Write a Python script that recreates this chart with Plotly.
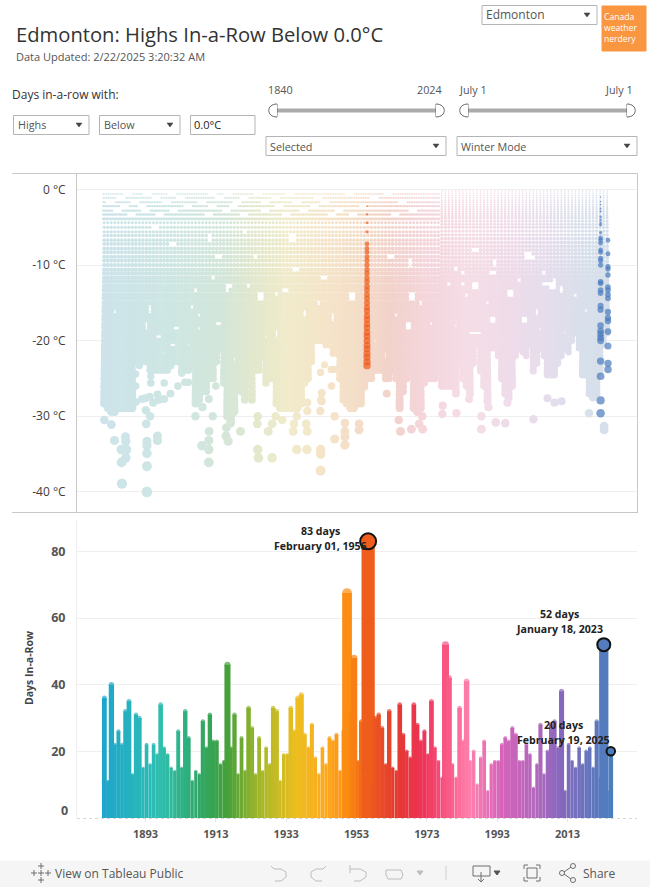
import plotly.graph_objects as go

# ---------- data ----------
bar_years = list(range(1881, 2026))
bar_days = [36, 11, 40, 22, 26, 22, 32, 35, 13, 31,
            30, 15, 22, 16, 22, 19, 34, 21, 19, 15,
            14, 26, 15, 32, 24, 11, 14, 13, 29, 21,
            31, 23, 23, 16, 17, 46, 21, 31, 13, 24,
            14, 33, 27, 13, 24, 14, 21, 16, 33, 32,
            11, 19, 19, 33, 26, 36, 37, 25, 21, 28,
            18, 13, 21, 16, 24, 23, 25, 14, 26, 67.5,
            32, 48, 17, 29, 13, 83, 10, 30, 31, 27,
            16, 32, 15, 14, 34, 25, 20, 18, 34, 28,
            23, 26, 19, 35, 21, 17, 12, 52, 42, 16,
            12, 33, 23, 41, 17, 20, 10, 18, 23, 8,
            16, 17, 17, 22, 24, 23, 27, 25, 17, 17,
            22, 19, 9, 16, 28, 13, 20, 28, 29, 21,
            38, 8, 22, 17, 15, 21, 16, 20, 21, 15,
            29, 12, 52, 8, 20]

cloud_years = list(range(1881, 2025))
cloud_floor = [-28.7, -29, -29.5, -29.5, -29.3, -29, -29, -29, -29, -23,
               -23.5, -23, -23, -24, -24, -24, -24, -24, -24, -23.5,
               -23, -23, -24, -24, -24, -23.5, -28.5, -28, -27, -27,
               -25.5, -25.5, -23, -21.5, -26, -30.5, -31, -29.5, -26, -27,
               -28, -26, -28, -24, -24, -22.5, -26, -25, -25, -28.5,
               -29, -29, -29, -29, -29, -29, -28.5, -26, -25, -23,
               -20, -20, -20, -21, -21, -22, -22, -25, -28, -28.5,
               -29, -29, -28.5, -28.5, -26.5, -25, -25, -24, -24, -24,
               -25, -25, -24, -25, -29, -27, -25, -24, -29, -29.5,
               -29, -26, -25.5, -25.5, -25, -24, -26, -26, -26, -26,
               -27, -23, -25, -26, -27, -23, -20.5, -24, -26, -28,
               -21, -21, -22, -25, -27, -27.5, -26, -22, -21, -21.5,
               -22, -20.5, -24, -23, -21, -22, -24.5, -24.5, -24.5, -23,
               -22, -21, -21.5, -20, -19, -21, -24.5, -24.5, -27, -27.5,
               -27, -24, -20.5, -19]

imperial_levels = [-0.6, -1.1, -1.7, -2.2, -2.8, -3.3, -3.9, -4.4, -5, -5.6, -6.1, -6.7,
                   -7.2, -7.8, -8.3, -8.9, -9.4, -10, -10.6, -11.1, -11.7, -12.2, -12.8,
                   -13.3, -13.9, -14.4, -15, -15.6, -16.1, -16.7, -17.2, -17.8, -18.3,
                   -18.9, -19.4, -20, -20.6, -21.1, -21.7, -22.2, -22.8, -23.3, -23.9,
                   -24.4, -25, -25.6, -26.1, -26.7, -27.2, -27.8, -28.3, -28.9, -29.4,
                   -30, -30.6, -31.1, -31.7]
metric_levels = [-0.2, -0.5, -0.8, -1.1, -1.4, -1.7, -2, -2.3, -2.6, -2.9, -3.2, -3.5, -3.8,
                 -4.2, -4.6, -5, -5.5, -6, -6.5, -7, -7.5, -8, -8.5, -9, -9.5, -10, -10.5,
                 -11, -11.5, -12, -12.5, -13, -13.5, -14, -14.5, -15, -15.5, -16, -16.5,
                 -17, -17.5, -18, -18.5, -19, -19.5, -20, -20.5, -21, -21.5, -22, -22.5,
                 -23, -23.5, -24, -24.5, -25, -25.5, -26, -26.5, -27, -27.5, -28, -28.5]

gap_years = [1900.6, 1895.9, 1921.5, 1911.5, 1934.7, 1935.7, 1912, 1916.3, 1922.4, 1930, 1907.3,
             1908.2, 1893, 1908.2, 1913.9, 1930, 1938.5, 1900.6, 1884, 1896.8, 1925.3, 1924.3,
             1951.8, 1964.1, 1967.9, 1974, 1968.8, 1986.9, 1984.1, 1997.4, 1990.2, 2003, 2004.4,
             1999.2, 1986.9, 2018.2, 1981.1, 1992.4, 2009.3, 1898, 1905, 1918, 1927, 1933, 1946,
             1958, 1961, 1971, 1978, 1983, 1988, 1994, 2001, 2006, 2012, 2015,
             1962.7, 1968.4, 1979.3, 1983.1, 1986.9, 1991.6, 1996.8, 2001.6, 2006.8, 2004, 2011.5,
             1981.2, 1985.9, 1991.6, 2000.6, 2005.4, 2008.7, 1951.8, 1894, 1901.6, 1906.3, 1916.7,
             1926.2, 1932.8, 1938.5, 1942.3, 1943.7, 1913.9]
gap_temps = [-7.2, -5.1, -5.5, -6.4, -6.4, -10.4, -11.5, -13, -12.6, -13.7, -13.5,
             -16.6, -18.1, -18.5, -17.7, -19.2, -16.3, -20.7, -16.1, -19.4, -14.1, -9,
             -14.4, -16.6, -18.1, -17.9, -14.1, -8, -13.9, -13.7, -15, -9, -16.3,
             -11.9, -19, -15.9, -10.6, -9.7, -12, -21.5, -20.5, -22.5, -19.5, -21, -17,
             -20, -22, -15, -21, -11, -19, -20, -17.5, -11, -19, -14,
             -9, -9.7, -12.4, -12.4, -12.8, -11, -13.7, -8.8, -12.6, -16.1, -13.3,
             -18.1, -19, -17.2, -17.2, -18.5, -12.8, -14.1, -15.9, -18.5, -15.5, -12.8,
             -14.1, -13.3, -16.8, -14.8, -11.5, -8.9]

# breaks in the shallow rows of dashes, one year and one row per entry
break_years = [1888, 1893.5, 1900.5, 1912, 1916.5, 1925, 1934, 1951, 1962,
               1886, 1896, 1903, 1914, 1921, 1930, 1942, 1958,
               1883, 1890, 1899, 1909, 1919, 1927, 1936, 1944, 1966,
               1887, 1892, 1905, 1912, 1918, 1931, 1941, 1955,
               1885, 1893, 1901, 1916, 1927, 1938, 1948, 1969,
               1889, 1897, 1911, 1921, 1933, 1946, 1952, 1964]
break_temps = [-0.6] * 9 + [-1.1] * 8 + [-1.7] * 9 + [-2.2] * 8 + [-2.8] * 8 + [-3.3] * 8

outlier_years = [1881.3, 1883.3, 1884.2, 1887.3, 1887.4, 1886.1, 1887.6, 1887.4, 1886.2, 1886.3,
                 1893.4, 1893.4, 1893.4, 1893.4, 1893.4, 1896.4, 1896.4, 1893.2, 1894.3, 1893.1,
                 1907.2, 1912.1, 1911.1, 1911, 1909, 1911, 1911, 1915.9, 1916.5, 1917.2, 1916,
                 1920, 1924.9, 1924.8, 1924.9, 1925.1, 1929, 1927.9, 1930, 1929, 1931.9, 1936,
                 1935.2, 1935, 1938.7, 1939, 1936, 1938.9, 1942.8, 1942.8, 1942.8, 1942.7, 1942.9,
                 1939, 1939, 1942.8, 1943.9, 1946.8, 1946.8, 1949.7, 1949.7, 1949.7, 1949.7,
                 1953.7, 1953.7, 1965.5, 1968.6, 1970.8, 1971.8, 1965, 1971.7, 1977.4, 1981.4,
                 1977.5, 1988.5, 1988.5, 1992.6, 1995.3, 2003.3, 2019.1, 2023.4, 2023.4, 1961.6,
                 1995.9, 1990.5, 1985, 2007.3, 2009.3, 2011.3,
                 1890.2, 1890.2, 1890.2, 1893, 1892, 1894.5, 1894.5, 1894.2, 1895.2, 1896.4, 1896.8,
                 1898.3, 1898.3, 1900.1, 1902.2, 1904.2, 1905.2, 1903.3, 1913, 1909.2, 1911,
                 1943.1, 1943.1, 1945.9, 1945.8, 1946.7]
outlier_temps = [-30.5, -31.1, -33.2, -32.7, -33.3, -34.4, -34.4, -35.5, -36.1, -38.9,
                 -33.3, -33.9, -34.9, -36.6, -40, -32.6, -33.2, -31, -30, -29.2,
                 -30, -30, -32, -33.2, -33.9, -34.4, -36.1, -32.6, -33.3, -30.9, -31.5,
                 -32, -30, -31, -34.4, -35.5, -35.5, -32, -30, -31, -30.5, -30,
                 -31, -32, -31, -32, -34.4, -34.4, -34.4, -35, -37.2, -29.3, -27.8,
                 -29.3, -28.2, -24.2, -23.2, -30, -33, -30.9, -32, -32.7, -33.8,
                 -31, -31.8, -32, -31.7, -31, -31.7, -30.5, -30, -29.7, -29.6,
                 -28.6, -30, -31.7, -30.8, -30.9, -30.4, -29.6, -31.3, -31.8, -27,
                 -28.2, -28.8, -27.7, -27.6, -28.2, -28,
                 -24.4, -26, -28.1, -27.6, -27.7, -25.6, -24.7, -27.4, -28.2, -27.1, -27.8,
                 -25.6, -27.7, -27, -26, -25.5, -25.5, -24.3, -26, -28.8, -27.7,
                 -26.9, -28, -26, -23.8, -23.8]

streak_1956_temps = [-2.2, -3.3, -4.4, -5.6, -7.2, -7.8, -8.3, -8.9, -9.4, -10, -10.6, -11.1,
                     -11.7, -12.2, -12.8, -13.3, -13.9, -14.4, -15, -15.6, -16.1, -16.7, -17.2,
                     -17.8, -18.3, -18.9, -19.4, -20, -20.6, -21.1, -21.7, -22.2, -22.8, -23.3]
streak_2023_temps = [-1, -1.6, -2, -2.5, -2.9, -3.6, -4, -4.4, -4.7, -5.7, -6.4, -6.7, -7.1, -8,
                     -8.3, -9.1, -9.4, -10, -12.2, -12.4, -13.3, -13.7, -15.4, -15.9, -18, -18.7,
                     -19.1, -19.6, -20, -22.7, -24.7, -27.9, -29.6]
streak_2025_temps = [-6.7, -8.5, -10.2, -10.5, -11.3, -12.9, -13.3, -13.9, -14.4, -16.2, -17,
                     -17.4, -18.8, -20.7, -23, -23.8]

temp_ticks = [0, -10, -20, -30, -40]
temp_labels = ['0 °C', '-10 °C', '-20 °C', '-30 °C', '-40 °C']
day_ticks = [20, 40, 60, 80]
year_ticks = [1893, 1913, 1933, 1953, 1973, 1993, 2013]

# ---------- helpers and styles ----------
W, H = 650, 887
X_RANGE = [1873.52, 2032.75]
PX_PER_YEAR = 3.517
FONT = 'Open Sans'
GREY = '#4a4a4a'
def fx(x): return x / W
def fy(y): return 1 - y / H

year_min, year_max = 1881, 2025
def scale(stops):
    return [[(y - year_min) / (year_max - year_min), c] for y, c in stops]
strong_scale = scale([(1881, '#1FA6CC'), (1897, '#2FBFB0'), (1908, '#2FA868'), (1916, '#43A03C'),
                      (1926, '#A8B828'), (1936, '#EDBE20'), (1945, '#FDA61E'), (1951, '#FB8A12'),
                      (1956, '#EF5E1C'), (1964, '#E33A30'), (1972, '#EE3358'), (1978, '#F7527F'),
                      (1985, '#FF80AC'), (1994, '#D663BA'), (2004, '#B267BC'), (2011, '#8668BE'),
                      (2025, '#4C7EBE')])
pale_scale = scale([(1881, '#CDE3EA'), (1900, '#CEE6E3'), (1915, '#D3E6DA'), (1925, '#E4E8CC'),
                    (1933, '#F0EBCB'), (1945, '#F5E4C9'), (1953, '#F4DEC8'), (1963, '#F2D2CB'),
                    (1973, '#F4D6DC'), (1985, '#F5DDE6'), (1997, '#EFDCEA'), (2007, '#E6DDEC'),
                    (2017, '#D9E0EB'), (2025, '#D5DFEA')])

def dot_size(t):
    d = abs(t)
    return 1.4 + 0.35 * d if d < 5 else 2.2 + 0.21 * d
def strong_size(t):
    d = abs(t)
    return 1 + 0.4 * d if d < 6 else 3.5 + 0.17 * d
def bar_px(year, days):
    return {2023: 9.3, 2025: 4.6}.get(year, 2.9 + 0.0015 * days * days)

# ---------- the temperature cloud ----------
cx, cy, cs, cc = [], [], [], []
def is_gap(x, t):
    if any(abs(x - gy) < 0.75 and abs(t - gt) < 0.35 for gy, gt in zip(gap_years, gap_temps)):
        return True
    return any(abs(x - by) < 1.1 and abs(t - bt) < 0.1 for by, bt in zip(break_years, break_temps))
for yr, floor in zip(cloud_years, cloud_floor):
    old_record = yr < 1977
    levels = imperial_levels if old_record else metric_levels
    for t in levels:
        if t < floor:
            break
        offsets = (0, 0.5) if (old_record and t > -4) else (0.25,)
        for off in offsets:
            x = yr + off
            if not is_gap(x, t):
                cx.append(x); cy.append(t); cs.append(dot_size(t)); cc.append(x)
cx += outlier_years
cy += outlier_temps
cs += [dot_size(t) for t in outlier_temps]
cc += outlier_years

fig = go.Figure()
fig.add_trace(go.Scatter(x=cx, y=cy, mode='markers', xaxis='x', yaxis='y', hoverinfo='skip',
                         marker=dict(size=cs, color=cc, colorscale=pale_scale, cmin=year_min,
                                     cmax=year_max, line_width=0, opacity=1), showlegend=False))
fig.add_trace(go.Scatter(x=[1955.98] * len(streak_1956_temps), y=streak_1956_temps, mode='markers',
                         marker=dict(size=[strong_size(t) for t in streak_1956_temps], color='#EF5B1B', line_width=0),
                         hoverinfo='skip', showlegend=False))
fig.add_trace(go.Scatter(x=[2022.4] * len(streak_2023_temps), y=streak_2023_temps, mode='markers',
                         marker=dict(size=[strong_size(t) for t in streak_2023_temps], color='#4A7BBD', line_width=0),
                         hoverinfo='skip', showlegend=False))
fig.add_trace(go.Scatter(x=[2024.5] * len(streak_2025_temps), y=streak_2025_temps, mode='markers',
                         marker=dict(size=[strong_size(t) for t in streak_2025_temps], color='#4A7BBD', line_width=0),
                         hoverinfo='skip', showlegend=False))

# ---------- the streak bars ----------
bx = [y + 0.3 for y in bar_years]
widths_px = [bar_px(y, d) for y, d in zip(bar_years, bar_days)]
fig.add_trace(go.Bar(x=bx, y=bar_days, width=[w / PX_PER_YEAR for w in widths_px], xaxis='x2', yaxis='y2',
                     marker=dict(color=bx, colorscale=strong_scale, cmin=year_min, cmax=year_max, line_width=0),
                     hoverinfo='skip', showlegend=False))
fig.add_trace(go.Scatter(x=bx, y=bar_days, mode='markers', xaxis='x2', yaxis='y2', hoverinfo='skip',
                         marker=dict(size=widths_px, color=bx, colorscale=strong_scale, cmin=year_min,
                                     cmax=year_max, line_width=0), showlegend=False))
for yr, size in ((1956, 16), (2023, 13), (2025, 8.5)):
    i = bar_years.index(yr)
    fig.add_trace(go.Scatter(x=[bx[i]], y=[bar_days[i]], mode='markers', xaxis='x2', yaxis='y2',
                             hoverinfo='skip', showlegend=False,
                             marker=dict(size=size, color=[bx[i]], colorscale=strong_scale, cmin=year_min,
                                         cmax=year_max, line=dict(color='#111111', width=2))))

# ---------- chrome ----------
shapes, annos = [], []
def text(x, y, s, size=11, color=GREY, anchor='left', bold=False, font=FONT, angle=0):
    shift = -1 if anchor == 'left' else 0
    annos.append(dict(xref='paper', yref='paper', x=fx(x + shift), y=fy(y), text=f'<b>{s}</b>' if bold else s,
                      showarrow=False, xanchor=anchor, yanchor='middle', textangle=angle, align='left',
                      font=dict(size=size, color=color, family=font), borderpad=0, bgcolor='rgba(0,0,0,0)'))
def rect(x0, y0, x1, y1, line='#B4B4B4', fill='white', width=1):
    shapes.append(dict(type='rect', xref='paper', yref='paper', x0=fx(x0), x1=fx(x1), y0=fy(y0), y1=fy(y1),
                       line=dict(color=line, width=width), fillcolor=fill, layer='below'))
def hline(x0, x1, y, color='#C8C8C8', width=1, dash='solid'):
    shapes.append(dict(type='line', xref='paper', yref='paper', x0=fx(x0), x1=fx(x1), y0=fy(y), y1=fy(y),
                       line=dict(color=color, width=width, dash=dash), layer='below'))
def vline(x, y0, y1, color='#C8C8C8', width=1):
    shapes.append(dict(type='line', xref='paper', yref='paper', x0=fx(x), x1=fx(x), y0=fy(y0), y1=fy(y1),
                       line=dict(color=color, width=width), layer='below'))
def path(points, close=False, color='#888888', fill=None, width=1, curve=False):
    if curve:
        d = f'M{fx(points[0][0])},{fy(points[0][1])} C' + ' '.join(f'{fx(a)},{fy(b)}' for a, b in points[1:])
    else:
        d = 'M' + ' L'.join(f'{fx(a)},{fy(b)}' for a, b in points)
    if close:
        d += ' Z'
    shapes.append(dict(type='path', xref='paper', yref='paper', path=d,
                       line=dict(color=color, width=width), fillcolor=fill or 'rgba(0,0,0,0)', layer='above'))
def dropdown(x0, y0, x1, y1, label, size=10.8):
    rect(x0, y0, x1, y1)
    text(x0 + 4, (y0 + y1) / 2, label, size=size, color='#555555')
    ax, ay = x1 - 10, (y0 + y1) / 2
    path([(ax - 3, ay - 2), (ax + 3, ay - 2), (ax, ay + 2)], close=True, color='#444444', fill='#444444', width=0.5)

text(16, 34, 'Edmonton: Highs In-a-Row Below 0.0°C', size=20.2, color='#333333')
text(16, 56, 'Data Updated: 2/22/2025 3:20:32 AM', size=11, color='#555555')
dropdown(482, 5.5, 597, 24.5, 'Edmonton', size=12)
rect(602, 6, 646, 51, line='#F9963F', fill='#F9963F')
text(604, 28, 'Canada<br>weather<br>nerdery', size=8.6, color='white')
text(12, 94, 'Days in-a-row with:', size=12, color='#333333')
dropdown(13.5, 115.5, 89, 134.5, 'Highs')
dropdown(99.5, 115.5, 180, 134.5, 'Below')
rect(190.5, 115.5, 255, 134.5)
text(194, 125, '0.0°C', size=11, color='#222222')
text(268, 90, '1840', size=10.8, color='#555555')
text(443, 90, '2024', size=10.8, color='#555555', anchor='right')
text(459, 90, 'July 1', size=10.8, color='#555555')
text(634, 90, 'July 1', size=10.8, color='#555555', anchor='right')
for x0, x1 in ((268, 445), (459, 636)):
    shapes.append(dict(type='rect', xref='paper', yref='paper', x0=fx(x0 + 8), x1=fx(x1 - 8), y0=fy(112.5), y1=fy(108.5),
                       line_width=0, fillcolor='#ABABAB', layer='below'))
    path([(x0 + 9, 104), (x0 - 2, 104), (x0 - 2, 117), (x0 + 9, 117)], curve=True, color='#666666', fill='white')
    path([(x1 - 9, 104), (x1 + 2, 104), (x1 + 2, 117), (x1 - 9, 117)], curve=True, color='#666666', fill='white')
    vline(x0 + 9, 104, 117, color='#666666')
    vline(x1 - 9, 104, 117, color='#666666')
dropdown(266, 136.5, 446, 155.5, 'Selected')
dropdown(457, 136.5, 637, 155.5, 'Winter Mode')

# panel frame
hline(12, 638, 173.5)
hline(12, 638, 512.5)
vline(637.5, 173.5, 512.5)
hline(77, 637, 189.5, color='#C4C4C4', dash='dot')

# bar panel labels
text(69, 810, '0', size=12.5, color='#555555', anchor='right', bold=True)
text(29, 668, 'Days In-a-Row', size=10.5, color='#444444', anchor='center', angle=-90, bold=True)
for x, y, s in ((320, 531, '83 days'), (320, 546, 'February 01, 1956'),
                (559, 614, '52 days'), (559, 629, 'January 18, 2023'),
                (563, 725, '20 days'), (563, 740, 'February 19, 2025')):
    text(x, y, s, size=10.6, color='#222222', anchor='center', bold=True)

# footer
rect(-1, 861, 651, 888, line='#F5F5F5', fill='#F5F5F5')
text(55, 873.5, 'View on Tableau Public', size=12, color='#555555')
text(583, 873.5, 'Share', size=12, color='#555555')
C = '#6E6E6E'; L = '#BDBDBD'
for dx, dy in ((0, -7), (0, 7), (-7, 0), (7, 0), (0, 0)):
    cxx, cyy = 41 + dx, 873 + dy
    path([(cxx - 3, cyy), (cxx + 3, cyy)], color=C); path([(cxx, cyy - 3), (cxx, cyy + 3)], color=C)
for pts in ([(271, 866), (274, 869), (281, 869), (286, 872), (286, 877), (281, 881), (275, 881)],
            [(326, 866), (323, 869), (316, 869), (311, 872), (311, 877), (316, 881), (322, 881)],
            [(350, 869), (360, 869), (366, 872), (366, 877), (360, 881), (354, 881)],
            [(386, 870), (401, 870), (403, 875), (401, 879), (388, 879), (386, 875), (386, 870)]):
    path(pts, color=L)
vline(350, 865, 873, color=L)
path([(417, 871), (423, 871), (420, 875)], close=True, color=L, fill=L)
vline(446, 866, 880, color='#CFCFCF')
path([(473, 866), (490, 866), (490, 876), (473, 876), (473, 866)], color=C)
path([(481, 872), (481, 882)], color=C); path([(478, 879), (481, 882), (484, 879)], color=C)
path([(494, 871), (500, 871), (497, 875)], close=True, color='#555555', fill='#555555')
for pts in ([(524, 869), (524, 865), (528, 865)], [(536, 865), (540, 865), (540, 869)],
            [(540, 877), (540, 881), (536, 881)], [(528, 881), (524, 881), (524, 877)],
            [(527, 868), (537, 868), (537, 878), (527, 878), (527, 868)]):
    path(pts, color=C)
for a, b in ((562, 873), (573, 866), (573, 880)):
    shapes.append(dict(type='circle', xref='paper', yref='paper', x0=fx(a - 2.5), x1=fx(a + 2.5),
                       y0=fy(b + 2.5), y1=fy(b - 2.5), line=dict(color=C, width=1)))
path([(564, 872), (571, 867)], color=C); path([(564, 874), (571, 879)], color=C)

fig.update_layout(
    width=W, height=H, margin=dict(l=0, r=0, t=0, b=0), autosize=False,
    paper_bgcolor='white', plot_bgcolor='rgba(0,0,0,0)', barmode='overlay', showlegend=False,
    shapes=shapes, annotations=annos,
    xaxis=dict(domain=[fx(77), fx(637)], range=X_RANGE, showticklabels=False, showgrid=False, zeroline=False,
               ticks='', anchor='y'),
    yaxis=dict(domain=[fy(512), fy(174)], range=[-42.66, 2.05], tickvals=temp_ticks[1:] + [0], ticktext=temp_labels[1:] + [temp_labels[0]],
               tickfont=dict(family=FONT, size=12, color='#3c3c3c'), showgrid=True, gridcolor='#EFEFEF', zeroline=False, showline=True,
               linecolor='#C8C8C8', linewidth=1, ticks='outside', ticklen=8, tickcolor='rgba(0,0,0,0)', anchor='x'),
    xaxis2=dict(domain=[fx(77), fx(637)], range=X_RANGE, tickvals=year_ticks, ticktext=[str(y) for y in year_ticks],
                tickfont=dict(family=FONT, size=11, color='#555555', weight='bold'), showgrid=False, zeroline=False,
                ticks='outside', ticklen=3, tickcolor='#E4E4E4', anchor='y2', showline=False, ticklabelstandoff=3),
    yaxis2=dict(domain=[fy(818), fy(520)], range=[0, 89.4], tickvals=day_ticks, ticktext=[str(d) for d in day_ticks],
                tickfont=dict(family=FONT, size=12.5, color='#555555', weight='bold'), showgrid=True, gridcolor='#EFEFEF', zeroline=False, showline=True,
                linecolor='#EFEFEF', linewidth=1, ticks='outside', ticklen=8, tickcolor='rgba(0,0,0,0)', anchor='x2'),
)
hline(77, 637, 818.5, color='#D8D8D8', dash='dot')
fig.update_layout(shapes=shapes)
fig.write_html('out.html', config={'displayModeBar': False}, post_script="document.body.style.margin='0';document.body.style.overflow='hidden';")
